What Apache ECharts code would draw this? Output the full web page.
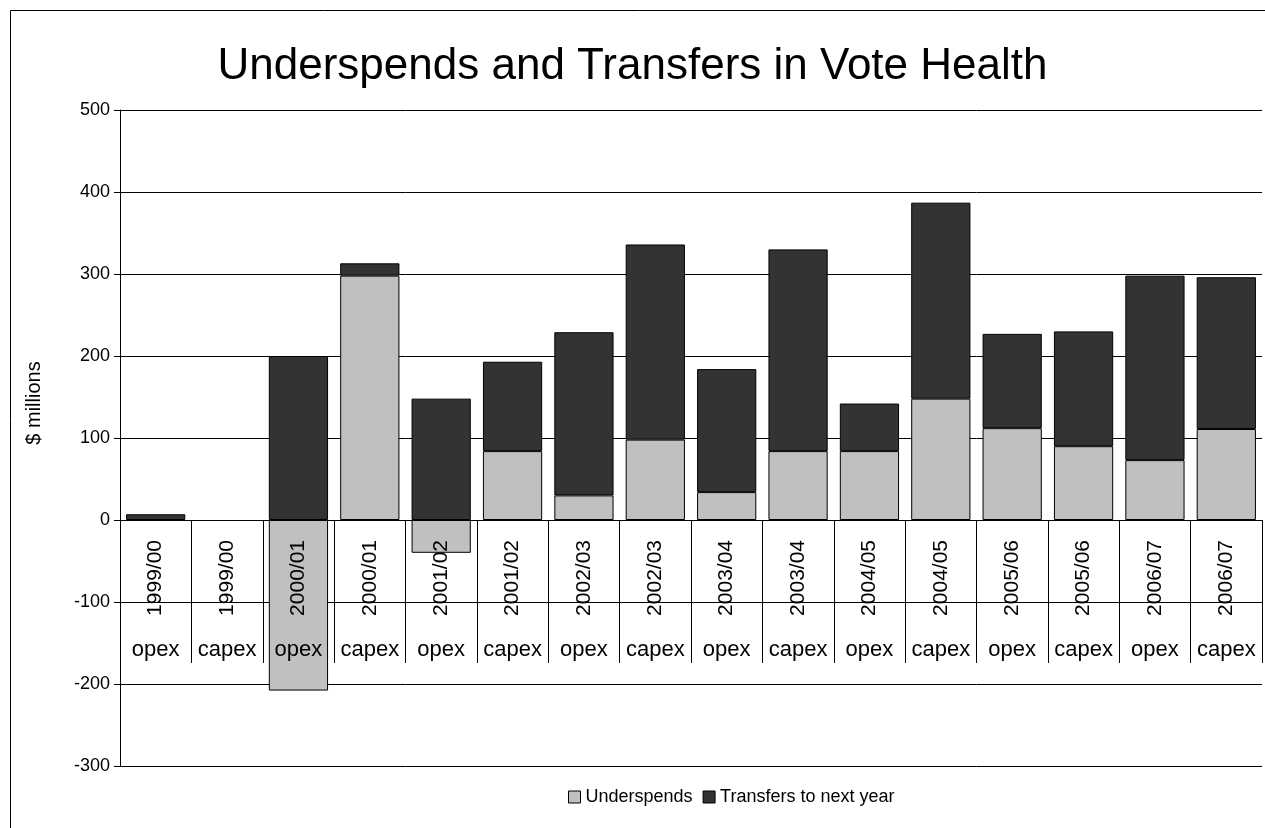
<!DOCTYPE html>
<html lang="en">
<head>
    <meta charset="UTF-8">
    <title>Underspends and Transfers in Vote Health</title>
    <script src="https://cdn.jsdelivr.net/npm/echarts@6/dist/echarts.min.js"></script>
    <style type="text/css">
        html, body { margin: 0; padding: 0; background: #ffffff; }
        #chart { width: 1265px; height: 828px; }
    </style>
</head>
<body>
<div id="chart"></div>
<script type="text/javascript">
    // years and budget type (two level category axis)
    var years = ['1999/00','1999/00','2000/01','2000/01','2001/02','2001/02','2002/03','2002/03',
                 '2003/04','2003/04','2004/05','2004/05','2005/06','2005/06','2006/07','2006/07'];
    var kinds = ['opex','capex','opex','capex','opex','capex','opex','capex',
                 'opex','capex','opex','capex','opex','capex','opex','capex'];
    // $ millions
    var underspends = [null, null, -208, 298, -40, 84, 30, 98, 34, 84, 84, 148, 112, 90, 73, 111];
    var transfers = [7, null, 200, 15, 148, 109, 199, 238, 150, 246, 58, 239, 115, 140, 225, 185];
    var yTicks = [-300, -200, -100, 0, 100, 200, 300, 400, 500];

    var font = 'Liberation Sans, Arial, sans-serif';
    var gridTop = 110, gridBottom = 62, chartH = 828;
    // the category axis sits on the zero line, move it up from the grid bottom
    var plotH = chartH - gridTop - gridBottom;
    var zeroOffset = -plotH * (0 - yTicks[0]) / (yTicks[yTicks.length - 1] - yTicks[0]);

    var myChart = echarts.init(document.getElementById('chart'));
    var option = {
        animation: false,
        backgroundColor: '#ffffff',
        title: {
            text: 'Underspends and Transfers in Vote Health',
            left: 'center',
            top: 40,
            textStyle: { fontFamily: font, fontSize: 44, fontWeight: 'normal', color: '#000' }
        },
        legend: {
            bottom: 17,
            left: 563,
            icon: 'rect',
            itemWidth: 12,
            itemHeight: 12,
            itemGap: 10,
            itemStyle: { borderColor: '#000', borderWidth: 1 },
            textStyle: { fontFamily: font, fontSize: 18, color: '#000' },
            data: ['Underspends', 'Transfers to next year']
        },
        grid: { left: 120, right: 3, top: gridTop, bottom: gridBottom, outerBoundsMode: 'none', containLabel: false },
        xAxis: [{
            type: 'category',
            data: years,
            position: 'bottom',
            offset: zeroOffset,
            z: 10,
            axisLine: { onZero: false, lineStyle: { color: '#000', width: 1 } },
            axisTick: { show: true, length: 143, interval: 0, lineStyle: { color: '#000' } },
            axisLabel: { interval: 0, rotate: 90, margin: 20, fontFamily: font, fontSize: 21, color: '#000' }
        }, {
            type: 'category',
            data: kinds,
            position: 'bottom',
            offset: zeroOffset,
            z: 10,
            axisLine: { show: false, onZero: false },
            axisTick: { show: false },
            axisLabel: { interval: 0, margin: 119, fontFamily: font, fontSize: 22, color: '#000' }
        }],
        yAxis: {
            type: 'value',
            min: yTicks[0],
            max: yTicks[yTicks.length - 1],
            interval: 100,
            name: '$ millions',
            nameLocation: 'middle',
            nameGap: 76,
            nameTextStyle: { fontFamily: font, fontSize: 20, color: '#000', padding: [0, 0, 0, 70] },
            axisLine: { show: true, lineStyle: { color: '#000' } },
            axisTick: { show: true, inside: false, length: 6, lineStyle: { color: '#000' } },
            axisLabel: { margin: 10, fontFamily: font, fontSize: 18, color: '#000' },
            splitLine: { show: true, lineStyle: { color: '#000', width: 1 } }
        },
        series: [{
            name: 'Underspends',
            type: 'bar',
            stack: 'vote',
            barCategoryGap: '17%',
            itemStyle: { color: '#c0c0c0', borderColor: '#000', borderWidth: 1 },
            data: underspends
        }, {
            name: 'Transfers to next year',
            type: 'bar',
            stack: 'vote',
            itemStyle: { color: '#333333', borderColor: '#000', borderWidth: 1 },
            data: transfers
        }],
        graphic: [{
            type: 'rect',
            left: 8,
            top: 8,
            shape: { width: 1270, height: 830 },
            style: { fill: null, stroke: '#000', lineWidth: 1 },
            silent: true
        }]
    };
    myChart.setOption(option);
</script>
</body>
</html>
